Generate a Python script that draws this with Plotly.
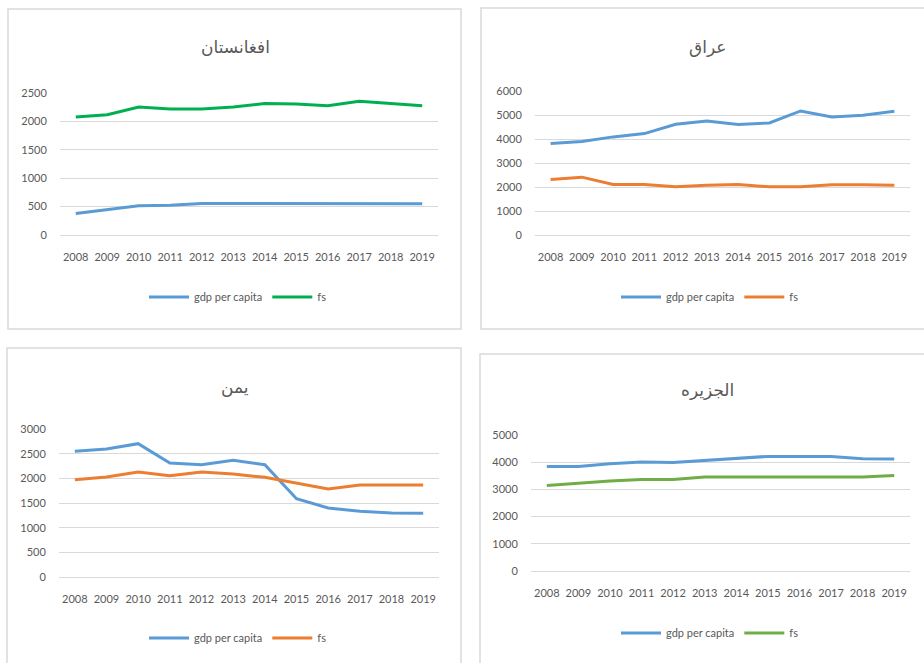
import plotly.graph_objects as go

years = ["2008", "2009", "2010", "2011", "2012", "2013", "2014", "2015", "2016", "2017", "2018", "2019"]

afg_gdp = [380, 450, 515, 525, 556, 556, 556, 556, 556, 556, 550, 548]
afg_fs = [2078, 2119, 2254, 2219, 2219, 2254, 2313, 2307, 2277, 2354, 2313, 2277]

irq_gdp = [3810, 3893, 4088, 4226, 4614, 4753, 4600, 4670, 5168, 4919, 4988, 5154]
irq_fs = [2314, 2411, 2106, 2106, 2009, 2078, 2106, 2009, 2009, 2092, 2092, 2078]

yem_gdp = [2547, 2595, 2703, 2311, 2277, 2365, 2277, 1588, 1399, 1331, 1297, 1291]
yem_fs = [1973, 2027, 2128, 2054, 2128, 2088, 2020, 1905, 1784, 1865, 1865, 1865]

jaz_gdp = [3845, 3845, 3943, 4005, 3993, 4066, 4140, 4214, 4214, 4214, 4128, 4115]
jaz_fs = [3145, 3231, 3305, 3366, 3366, 3452, 3452, 3452, 3452, 3452, 3452, 3514]

titles = ["افغانستان", "عراق", "یمن", "الجزیره"]
series_names = ["gdp per capita", "fs"]

BLUE = "#5B9BD5"
ORANGE = "#ED7D31"
GREEN_A = "#00B050"
GREEN_J = "#70AD47"
GRID = "#D9D9D9"
TXT = "#595959"

W, H = 924, 663


def fx(px):
    return px / W


def fy(py):
    return 1 - py / H


panels = [
    dict(gdp=afg_gdp, fs=afg_fs, c2=GREEN_A, box=(60, 438, 93, 235), ymax=2500, dtick=500,
         title=(235, 47), legend=(238, 297), border=(8, 461, 9, 329)),
    dict(gdp=irq_gdp, fs=irq_fs, c2=ORANGE, box=(535, 910, 91, 235), ymax=6000, dtick=1000,
         title=(707, 47), legend=(710, 297), border=(481, 940, 8, 329)),
    dict(gdp=yem_gdp, fs=yem_fs, c2=ORANGE, box=(59, 439, 429, 577), ymax=3000, dtick=500,
         title=(235, 387), legend=(238, 638), border=(7, 461, 348, 680)),
    dict(gdp=jaz_gdp, fs=jaz_fs, c2=GREEN_J, box=(531, 910, 435, 571), ymax=5000, dtick=1000,
         title=(707, 390), legend=(710, 633), border=(480, 940, 354, 680)),
]

fig = go.Figure()
tick_font = dict(family="Lato, 'Open Sans', sans-serif", size=11, color=TXT)
shapes = []
annotations = []

for i, p in enumerate(panels):
    n = "" if i == 0 else str(i + 1)
    leg = "legend" + n
    xa = "x" + n
    ya = "y" + n
    fig.add_trace(go.Scatter(x=years, y=p["gdp"], mode="lines", name=series_names[0],
                             line=dict(color=BLUE, width=3), xaxis=xa, yaxis=ya, legend=leg,
                             hoverinfo="x+y"))
    fig.add_trace(go.Scatter(x=years, y=p["fs"], mode="lines", name=series_names[1],
                             line=dict(color=p["c2"], width=3), xaxis=xa, yaxis=ya, legend=leg,
                             hoverinfo="x+y"))
    x0, x1, yt, yb = p["box"]
    fig.update_layout({
        "xaxis" + n: dict(domain=[fx(x0), fx(x1)], anchor=ya, type="category",
                          range=[-0.5, 11.5], showgrid=False, showline=False, zeroline=False,
                          ticks="outside", ticklen=12, tickcolor="rgba(0,0,0,0)",
                          tickfont=tick_font, fixedrange=True, automargin=False),
        "yaxis" + n: dict(domain=[fy(yb), fy(yt)], anchor=xa, range=[0, p["ymax"]],
                          dtick=p["dtick"], tick0=0, showgrid=True, gridcolor=GRID, gridwidth=1,
                          zeroline=True, zerolinecolor=GRID, zerolinewidth=1, showline=False,
                          ticks="outside", ticklen=10, tickcolor="rgba(0,0,0,0)",
                          tickfont=tick_font, fixedrange=True, automargin=False),
        leg: dict(orientation="h", x=fx(p["legend"][0]), y=fy(p["legend"][1]),
                  xanchor="center", yanchor="middle", bgcolor="rgba(0,0,0,0)",
                  font=dict(family="Lato, 'Open Sans', sans-serif", size=11, color=TXT),
                  itemwidth=40, tracegroupgap=0),
    })
    bx0, bx1, by0, by1 = p["border"]
    shapes.append(dict(type="rect", xref="paper", yref="paper", x0=fx(bx0), x1=fx(bx1),
                       y0=fy(by1), y1=fy(by0), line=dict(color=GRID, width=1.5),
                       fillcolor="rgba(0,0,0,0)", layer="below"))
    annotations.append(dict(text=titles[i], xref="paper", yref="paper", x=fx(p["title"][0]),
                            y=fy(p["title"][1]), xanchor="center", yanchor="middle",
                            showarrow=False,
                            font=dict(family="DejaVu Sans, sans-serif", size=17, color=TXT)))

fig.update_layout(
    width=W, height=H, margin=dict(l=0, r=0, t=0, b=0, pad=0, autoexpand=False),
    paper_bgcolor="white", plot_bgcolor="white",
    shapes=shapes, annotations=annotations,
)

fig.write_html("out.html", config={"displayModeBar": False},
               post_script="document.body.style.margin='0';document.body.style.overflow='hidden';")
